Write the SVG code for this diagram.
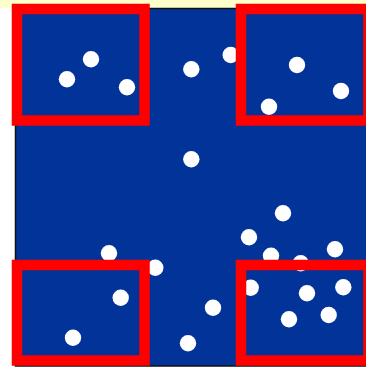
<svg xmlns="http://www.w3.org/2000/svg" width="366" height="369" viewBox="0 0 366 369">
<style>
.dot{fill:#ffffff}
.box{fill:none;stroke:#ff0000;stroke-width:10.5}
</style>
<rect x="0" y="0" width="366" height="369" fill="#ffffff"/>
<rect x="0" y="0" width="366" height="8" fill="#ffffcc"/>
<rect id="field" x="15.5" y="8.5" width="352" height="357.5" fill="#023399" stroke="#111111" stroke-width="1.5"/>
<g id="dots">
<circle class="dot" cx="91" cy="59.3" r="8.2"/>
<circle class="dot" cx="67" cy="79.3" r="8.2"/>
<circle class="dot" cx="127" cy="87.3" r="8.2"/>
<circle class="dot" cx="191.3" cy="69.3" r="8.2"/>
<circle class="dot" cx="230.7" cy="55" r="8.2"/>
<circle class="dot" cx="297" cy="65" r="8.2"/>
<circle class="dot" cx="341" cy="91" r="8.2"/>
<circle class="dot" cx="269" cy="106.7" r="8.2"/>
<circle class="dot" cx="191.3" cy="159.3" r="8.2"/>
<circle class="dot" cx="109" cy="253.3" r="8.2"/>
<circle class="dot" cx="155.3" cy="267.7" r="8.2"/>
<circle class="dot" cx="120.7" cy="297.7" r="8.2"/>
<circle class="dot" cx="73" cy="337.7" r="8.2"/>
<circle class="dot" cx="188" cy="343.3" r="8.2"/>
<circle class="dot" cx="283" cy="213.3" r="8.2"/>
<circle class="dot" cx="249" cy="237.3" r="8.2"/>
<circle class="dot" cx="335" cy="249.3" r="8.2"/>
<circle class="dot" cx="271" cy="255.7" r="8.2"/>
<circle class="dot" cx="300.7" cy="263.3" r="8.2"/>
<circle class="dot" cx="250.7" cy="287.7" r="8.2"/>
<circle class="dot" cx="307" cy="293.3" r="8.2"/>
<circle class="dot" cx="343.3" cy="287.3" r="8.2"/>
<circle class="dot" cx="213" cy="307.7" r="8.2"/>
<circle class="dot" cx="289" cy="319.3" r="8.2"/>
<circle class="dot" cx="328.7" cy="315" r="8.2"/>
</g>
<g id="boxes">
<rect id="box-tl" class="box" x="17" y="9" width="127.5" height="111.5"/>
<rect id="box-tr" class="box" x="241" y="9" width="127.5" height="111.5"/>
<rect id="box-bl" class="box" x="17" y="265" width="127.5" height="95.5"/>
<rect id="box-br" class="box" x="241" y="265" width="127.5" height="95.5"/>
</g>
</svg>
